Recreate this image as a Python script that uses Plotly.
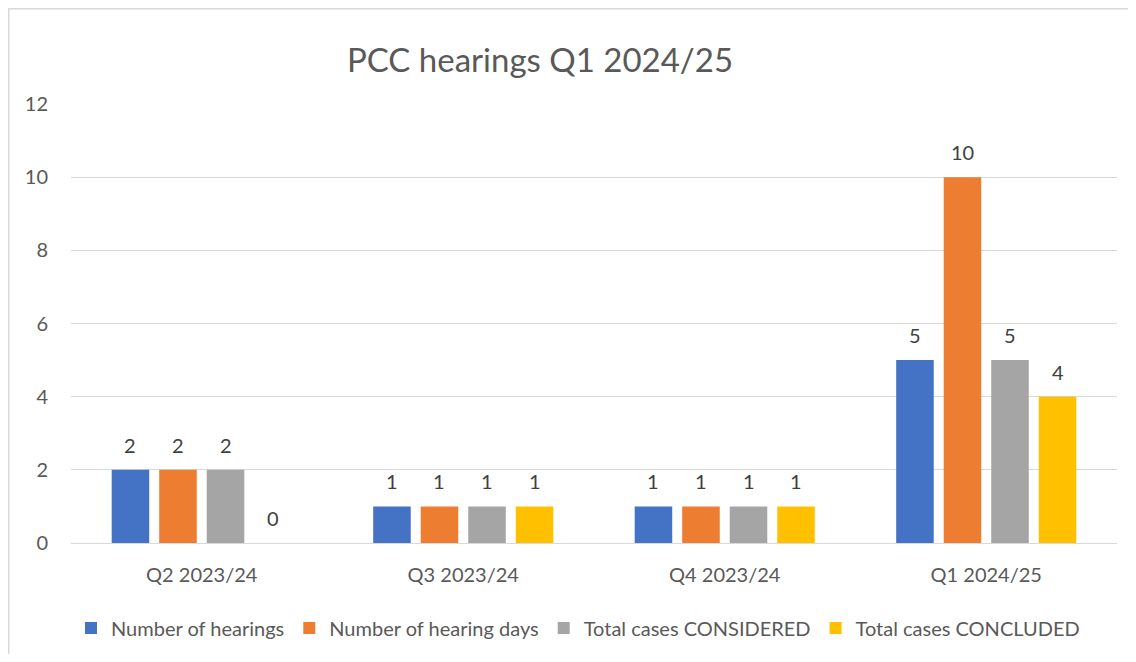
import plotly.graph_objects as go

categories = ["Q2 2023/24", "Q3 2023/24", "Q4 2023/24", "Q1 2024/25"]
hearings = [2, 1, 1, 5]
hearing_days = [2, 1, 1, 10]
considered = [2, 1, 1, 5]
concluded = [0, 1, 1, 4]
series_names = ["Number of hearings", "Number of hearing days",
                "Total cases CONSIDERED", "Total cases CONCLUDED"]
colors = ["#4472C4", "#ED7D31", "#A5A5A5", "#FFC000"]

FONT = "Lato, Open Sans, sans-serif"
W, H = 1120, 646
ml, mr, mt, mb = 63, 11, 96, 111
pw, ph = W - ml - mr, H - mt - mb
bargap, bargroupgap = 0.273, 0.21
n_series = 4
slot_px = pw / len(categories) * (1 - bargap) / n_series

all_series = [hearings, hearing_days, considered, concluded]

fig = go.Figure()
for name, vals, col in zip(series_names, all_series, colors):
    fig.add_trace(go.Bar(
        x=categories, y=vals, name=name, marker=dict(color=col, line=dict(width=0)),
        hoverinfo="x+y+name",
    ))

# data labels above bars
for j, vals in enumerate(all_series):
    for cat, v in zip(categories, vals):
        fig.add_annotation(x=cat, y=v, text=str(v), showarrow=False,
                           xshift=(j - (n_series - 1) / 2) * slot_px, yshift=25,
                           yanchor="middle", xanchor="center",
                           font=dict(family=FONT, size=20, color="#404040"))

fig.update_layout(
    width=W, height=H,
    margin=dict(l=ml, r=mr, t=mt, b=mb, autoexpand=False),
    paper_bgcolor="white", plot_bgcolor="white",
    barmode="group", bargap=bargap, bargroupgap=bargroupgap,
    title=dict(text="PCC hearings Q1 2024/25", x=532 / W, xanchor="center",
               y=1 - 52 / H, yanchor="middle",
               font=dict(family=FONT, size=33, color="#595959")),
    font=dict(family=FONT, size=20, color="#595959"),
    xaxis=dict(showgrid=False, showline=True, linecolor="#D9D9D9", linewidth=1,
               ticks="", ticklabelstandoff=14, tickfont=dict(size=20, color="#595959")),
    yaxis=dict(range=[0, 12], dtick=2, showgrid=True, gridcolor="#D9D9D9", gridwidth=1,
               zeroline=False, showline=False, ticks="", ticklabelstandoff=22,
               tickfont=dict(size=20, color="#595959")),
    legend=dict(orientation="h", x=(570 - ml) / pw, xanchor="center",
                y=-(620 - (H - mb)) / ph, yanchor="middle",
                font=dict(size=20, color="#595959"), traceorder="normal",
                itemwidth=30, tracegroupgap=0),
    showlegend=True,
)

# Outer chart border (top and left visible; right and bottom run off the image)
fig.add_shape(type="rect", xref="paper", yref="paper",
              x0=(0.75 - ml) / pw, x1=(W + 10 - ml) / pw,
              y0=-(mb + 10) / ph, y1=(H - mb - 0.75) / ph,
              line=dict(color="#D9D9D9", width=1.5), fillcolor="rgba(0,0,0,0)", layer="below")

fig.write_html("out.html")
